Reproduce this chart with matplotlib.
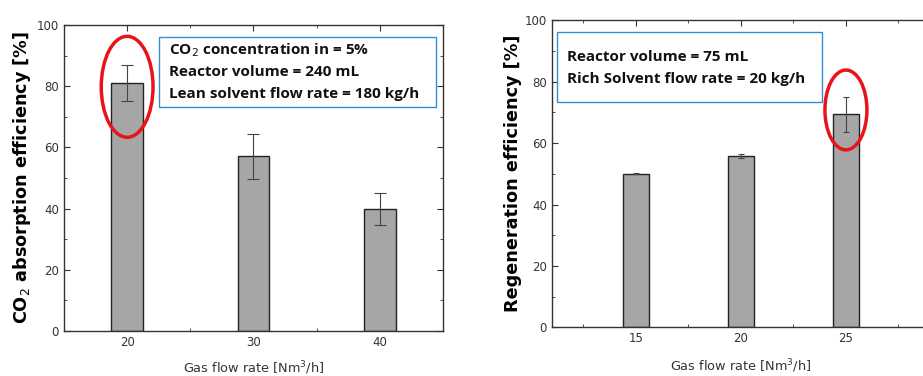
import matplotlib.pyplot as plt
from matplotlib.patches import Ellipse, Rectangle

# absorption panel
abs_x = [20, 30, 40]
abs_y = [81, 57.1, 39.8]
abs_err = [5.9, 7.4, 5.3]

# regeneration panel
reg_x = [15, 20, 25]
reg_y = [50.0, 55.8, 69.4]
reg_err = [0.2, 0.8, 5.7]

bar_col = "#a6a6a6"
box_col = "#2e8fd8"

fig = plt.figure(figsize=(9.23, 3.76), dpi=100)

ax1 = fig.add_axes([0.0693, 0.1197, 0.4106, 0.8138])
ax2 = fig.add_axes([0.598, 0.1295, 0.4095, 0.8165])

for ax in (ax1, ax2):
    for s in ax.spines.values():
        s.set_color("#333333")
        s.set_linewidth(1.0)
    ax.tick_params(direction="in", which="both", top=True, right=True,
                   labelsize=8.5, labelcolor="#333333", color="#333333")
    ax.tick_params(which="major", length=4)
    ax.tick_params(which="minor", length=2.5)
    ax.set_ylim(0, 100)
    ax.set_yticks([0, 20, 40, 60, 80, 100])
    ax.set_yticks([10, 30, 50, 70, 90], minor=True)


def note_box(ax, x0, y0, x1, y1, tx, lines_y, lines):
    ax.add_patch(Rectangle((x0, y0), x1 - x0, y1 - y0, transform=ax.transAxes,
                           facecolor="white", edgecolor=box_col, linewidth=1.0, zorder=5))
    for ty, s in zip(lines_y, lines):
        ax.text(tx, ty, s, transform=ax.transAxes, fontsize=11, fontweight="bold",
                va="center", ha="left", color="#111111", family="Open Sans", zorder=6)


# left
ax1.bar(abs_x, abs_y, width=2.5, color=bar_col, edgecolor="#222222", linewidth=1.0, zorder=2)
ax1.errorbar(abs_x, abs_y, yerr=abs_err, fmt="none", ecolor="#444444", elinewidth=0.8, capsize=4, capthick=0.8, zorder=3)
ax1.set_xlim(15, 45)
ax1.set_xticks(abs_x)
ax1.set_xticks([25, 35], minor=True)
ax1.set_ylabel("CO$_2$ absorption efficiency [%]", fontsize=12.7, fontweight="bold")
ax1.yaxis.set_label_coords(-0.082, 0.5)
ax1.set_xlabel("Gas flow rate [Nm$^3$/h]", fontsize=9.3, color="#333333", va="center")
ax1.xaxis.set_label_coords(0.5, -0.121)
ax1.add_patch(Ellipse((20, 79.8), 4.1, 33, fill=False, edgecolor="#e8141b", linewidth=2.5, zorder=4))
note_box(ax1, 0.251, 0.733, 0.982, 0.962, 0.277, [0.918, 0.846, 0.775],
         ["CO$_2$ concentration in = 5%", "Reactor volume = 240 mL", "Lean solvent flow rate = 180 kg/h"])

# right
ax2.bar(reg_x, reg_y, width=1.25, color=bar_col, edgecolor="#222222", linewidth=1.0, zorder=2)
ax2.errorbar(reg_x, reg_y, yerr=reg_err, fmt="none", ecolor="#444444", elinewidth=0.8, capsize=2.5, capthick=0.8, zorder=3)
ax2.set_xlim(11, 29)
ax2.set_xticks(reg_x)
ax2.set_xticks([12.5, 17.5, 22.5, 27.5], minor=True)
ax2.set_ylabel("Regeneration efficiency [%]", fontsize=12.7, fontweight="bold")
ax2.yaxis.set_label_coords(-0.079, 0.5)
ax2.set_xlabel("Gas flow rate [Nm$^3$/h]", fontsize=9.3, color="#333333", va="center")
ax2.xaxis.set_label_coords(0.5, -0.126)
ax2.add_patch(Ellipse((25, 70.8), 2.0, 26, fill=False, edgecolor="#e8141b", linewidth=2.5, zorder=4))
note_box(ax2, 0.013, 0.734, 0.7135, 0.962, 0.040, [0.881, 0.810],
         ["Reactor volume = 75 mL", "Rich Solvent flow rate = 20 kg/h"])

fig.savefig("out.png", dpi=100)
